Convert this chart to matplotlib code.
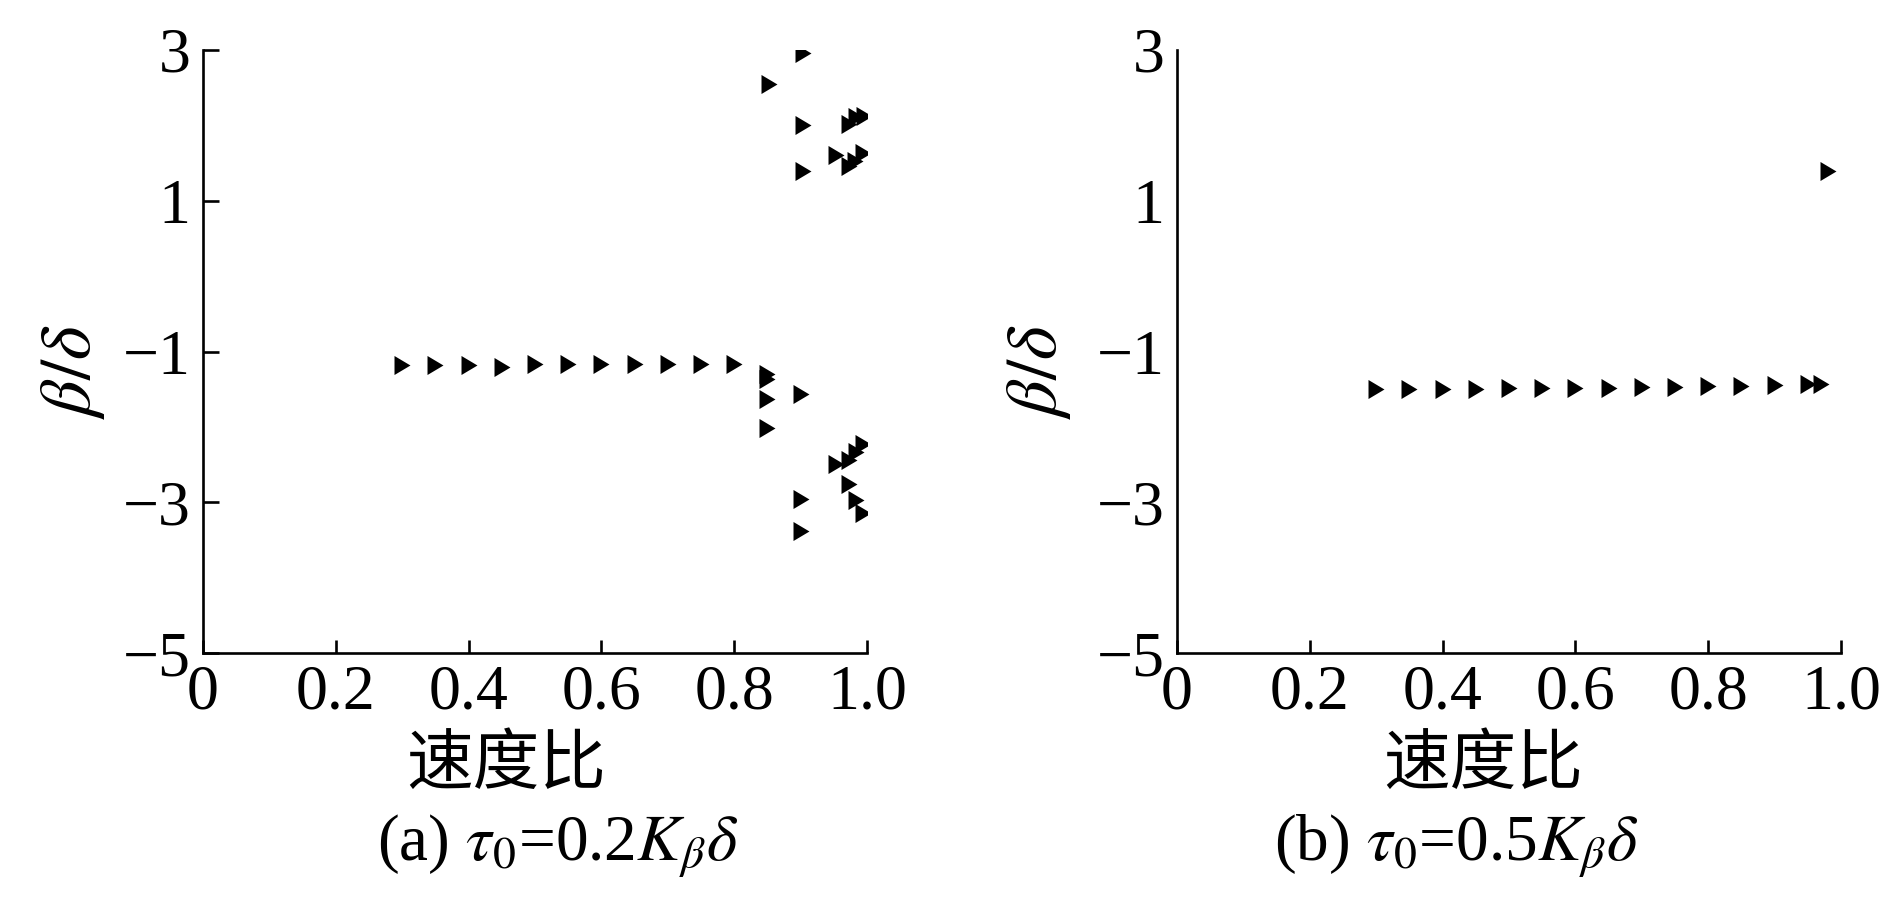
# scatter of beta/delta against speed ratio, two tau0 cases side by side

import matplotlib
matplotlib.use("Agg")
import matplotlib.pyplot as plt

# (a) tau0 = 0.2 K_beta delta
a_x = [0.30, 0.35, 0.40, 0.45, 0.50, 0.55, 0.60, 0.65, 0.70, 0.75, 0.80,
       0.85, 0.85, 0.85, 0.85, 0.90,
       0.90, 0.90, 0.953, 0.973, 0.983, 0.994, 0.973, 0.983, 0.994,
       0.904, 0.853, 0.903, 0.903, 0.973, 0.983, 0.995, 0.953, 0.973, 0.982, 0.994]
a_y = [-1.18, -1.18, -1.18, -1.20, -1.17, -1.17, -1.17, -1.17, -1.16, -1.16, -1.16,
       -1.30, -1.37, -1.63, -2.02, -1.56,
       -2.96, -3.38, -2.49, -2.44, -2.33, -2.23, -2.76, -2.97, -3.14,
       2.96, 2.55, 2.00, 1.40, 2.02, 2.11, 2.12, 1.61, 1.46, 1.53, 1.64]

# (b) tau0 = 0.5 K_beta delta
b_x = [0.30, 0.35, 0.40, 0.45, 0.50, 0.55, 0.60, 0.65, 0.70, 0.75, 0.80,
       0.85, 0.90, 0.95, 0.97, 0.98]
b_y = [-1.50, -1.50, -1.50, -1.50, -1.49, -1.49, -1.49, -1.49, -1.47, -1.47, -1.46,
       -1.46, -1.45, -1.43, -1.43, 1.40]

x_ticks = [0, 0.2, 0.4, 0.6, 0.8, 1.0]
x_labels = ["0", "0.2", "0.4", "0.6", "0.8", "1.0"]
y_ticks = [-5, -3, -1, 1, 3]

captions = [r"(a) $\tau_0$=0.2$K_\beta\delta$", r"(b) $\tau_0$=0.5$K_\beta\delta$"]

plt.rcParams["font.family"] = ["Liberation Serif", "Noto Sans CJK SC"]
plt.rcParams["mathtext.fontset"] = "stix"

# right pointing triangle, a bit taller than wide
tri = [(-0.84, -1.0), (0.84, 0.0), (-0.84, 1.0), (-0.84, -1.0)]

fig = plt.figure(figsize=(18.9, 8.98), dpi=100)
ax_a = fig.add_axes([203 / 1890, 1 - 653 / 898, 664 / 1890, 603 / 898])
ax_b = fig.add_axes([1177 / 1890, 1 - 653 / 898, 664 / 1890, 603 / 898])

panels = [(ax_a, a_x, a_y), (ax_b, b_x, b_y)]
for i, (ax, xs, ys) in enumerate(panels):
    ax.plot(xs, ys, linestyle="none", marker=tri, markersize=13.7,
            color="black", markeredgewidth=0)
    ax.set_xlim(0, 1.0)
    ax.set_ylim(-5, 3)
    ax.set_xticks(x_ticks)
    ax.set_xticklabels(x_labels)
    ax.set_yticks(y_ticks)
    for side in ["top", "right"]:
        ax.spines[side].set_visible(False)
    for side in ["left", "bottom"]:
        ax.spines[side].set_linewidth(1.9)
    ax.tick_params(axis="x", direction="in", length=9.5, width=1.9,
                   labelsize=46, pad=8)
    if i == 0:
        ax.tick_params(axis="y", direction="in", length=11.5, width=1.9,
                       labelsize=46, pad=9)
    else:
        ax.tick_params(axis="y", length=0, labelsize=46, pad=9)

    ax.set_xlabel("速度比", fontsize=48, family=["Noto Sans CJK SC"])
    ax.xaxis.label.set_va("center")
    ax.set_ylabel(r"$\beta/\delta$", fontsize=52)
    ax.yaxis.label.set_va("center")

ax_a.xaxis.set_label_coords(0.456, -0.186)
ax_b.xaxis.set_label_coords(0.461, -0.186)
ax_a.yaxis.set_label_coords(-0.196, 0.466)
ax_b.yaxis.set_label_coords(-0.208, 0.466)

fig.text(558 / 1890, 1 - 846 / 898, captions[0], ha="center", va="center", fontsize=47)
fig.text(1456 / 1890, 1 - 846 / 898, captions[1], ha="center", va="center", fontsize=47)

plt.savefig("out.png", dpi=100)
